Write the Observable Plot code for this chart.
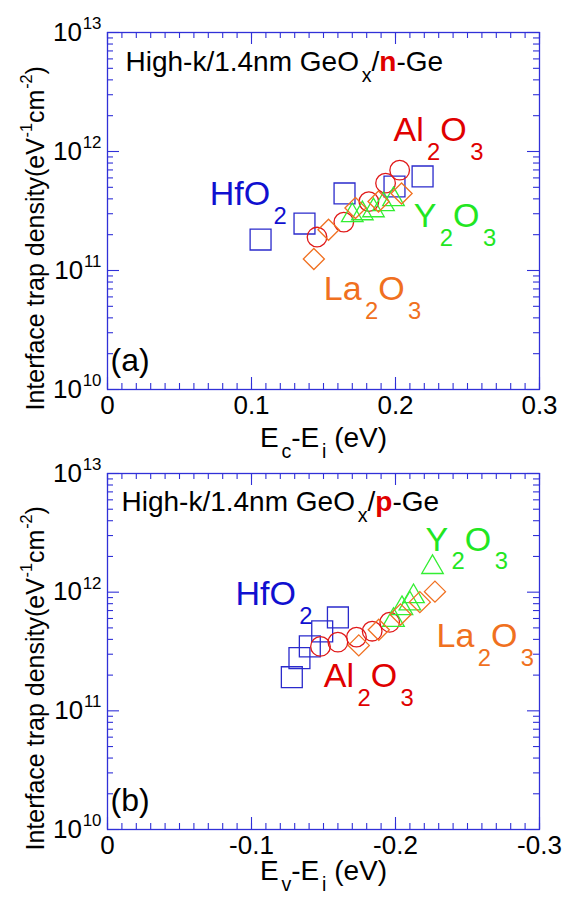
<!DOCTYPE html>
<html><head><meta charset="utf-8">
<script src="https://cdn.jsdelivr.net/npm/d3@7"></script>
<script src="https://cdn.jsdelivr.net/npm/@observablehq/plot@0.6"></script>
<style>
body{margin:0;background:#fff;}
#chart{position:relative;width:572px;height:897px;}
#chart svg{position:absolute;left:0;}
</style></head><body><div id="chart"></div>
<script>
// ---- Data: panel (a) n-Ge, E = Ec-Ei (eV), D = interface trap density ----
const hfA_E = [0.1063, 0.1368, 0.1646, 0.1993, 0.2188];
const hfA_D = [1.82e11, 2.48e11, 4.44e11, 5.08e11, 6.17e11];
const alA_E = [0.1455, 0.1641, 0.1815, 0.1931, 0.2029];
const alA_D = [1.91e11, 2.55e11, 3.79e11, 5.42e11, 6.97e11];
const yA_E = [0.170, 0.177, 0.1847, 0.1917, 0.1986];
const yA_D = [2.90e11, 3.01e11, 3.19e11, 3.59e11, 3.96e11];
const laA_E = [0.1433, 0.1535, 0.1722, 0.1882, 0.2042];
const laA_D = [1.25e11, 2.20e11, 3.35e11, 3.80e11, 4.44e11];
// ---- Data: panel (b) p-Ge, E = Ev-Ei (eV) ----
const hfB_E = [-0.128, -0.1333, -0.1405, -0.1491, -0.160];
const hfB_D = [1.92e11, 2.78e11, 3.49e11, 4.67e11, 6.12e11];
const alB_E = [-0.1479, -0.160, -0.1729, -0.1838, -0.196];
const alB_D = [3.49e11, 3.79e11, 4.18e11, 4.69e11, 5.58e11];
const yB_E = [-0.1986, -0.2045, -0.2100, -0.2125, -0.2257];
const yB_D = [5.8e11, 7.3e11, 8.0e11, 9.2e11, 1.62e12];
const laB_E = [-0.1745, -0.1884, -0.2035, -0.2169, -0.2274];
const laB_D = [3.56e11, 4.82e11, 6.49e11, 8.24e11, 1.01e12];
// ---- Labels & ticks ----
const materials = ["HfO_{2}", "Al_{2}O_{3}", "Y_{2}O_{3}", "La_{2}O_{3}"];
const labelA_E = [0.0710, 0.1986, 0.2127, 0.1502];
const labelA_D = [3.52e11, 1.22e12, 2.31e11, 5.6e10];
const labelB_E = [-0.0889, -0.1502, -0.2208, -0.2285];
const labelB_D = [7.73e11, 1.58e11, 2.24e12, 3.44e11];
const titleA = "High-k/1.4nm GeO_{x}/!{n}-Ge";
const titleB = "High-k/1.4nm GeO_{x}/!{p}-Ge";
const xLabelA = "E_{c}-E_{i} (eV)";
const xLabelB = "E_{v}-E_{i} (eV)";
const yLabel = "Interface trap density(eV^{-1}cm^{-2})";
const xTicksA = [0, 0.1, 0.2, 0.3];
const xTicksB = [0, -0.1, -0.2, -0.3];
const yTicks = [1e10, 1e11, 1e12, 1e13];

const FONT = "'Liberation Sans', Arial, Helvetica, sans-serif";
const AXIS = "#3030d8";
const COLORS = ["#1010d0", "#e00000", "#22e622", "#f07020"];
const STROKES = ["#2a2acc", "#e01818", "#33ee33", "#f07020"];
const SYMBOLS = ["square", "circle", "triangle", "diamond2"];
const RADII = [11.8, 9.8, 8.0, 9.5];

const rows = (E, D) => E.map((e, i) => ({E: e, D: D[i]}));
const yMinor = [10, 11, 12].flatMap(d => [2,3,4,5,6,7,8,9].map(k => k * 10 ** d));

function panel({sign, series, labE, labD, title, tag, xLabel, xTicks, height, marginTop, marginBottom, titleDx, titleDy, xLabelDy}) {
  const xMinor = d3.range(0, 31).map(i => sign * i / 100);
  const PW = 572 - 107 - 33, PH = height - marginTop - marginBottom;
  const tk = {stroke: AXIS, strokeWidth: 1.1};
  const marks = [
    Plot.frame({stroke: AXIS, strokeWidth: 1.3}),
    Plot.ruleX(xMinor, {...tk, insetTop: PH - 6}),
    Plot.ruleX(xMinor, {...tk, insetBottom: PH - 6}),
    Plot.ruleX(xTicks, {...tk, insetTop: PH - 12}),
    Plot.ruleX(xTicks, {...tk, insetBottom: PH - 12}),
    Plot.ruleY(yMinor, {...tk, insetRight: PW - 6}),
    Plot.ruleY(yMinor, {...tk, insetLeft: PW - 6}),
    Plot.ruleY(yTicks, {...tk, insetRight: PW - 12}),
    Plot.ruleY(yTicks, {...tk, insetLeft: PW - 12}),
    Plot.axisX({anchor: "bottom", ticks: xTicks, tickSize: 0, tickPadding: 6, fontSize: 26, fill: "#000",
      tickFormat: d => d === 0 ? "0" : d.toFixed(1), label: null}),
    Plot.axisY({anchor: "left", ticks: yTicks, tickSize: 0, tickPadding: 6, fontSize: 26, fill: "#000",
      tickFormat: d => `10^{${Math.round(Math.log10(d))}}`, label: null}),
  ];
  series.forEach(([E, D], k) => {
    marks.push(Plot.dot(rows(E, D), {x: "E", y: "D", symbol: SYMBOLS[k], r: RADII[k], stroke: STROKES[k], strokeWidth: 1.3, fill: "none"}));
  });
  marks.push(Plot.text(materials.map((m, k) => ({m, E: labE[k], D: labD[k], c: COLORS[k]})),
    {x: "E", y: "D", text: "m", fill: d => d.c, fontSize: 34, textAnchor: "start", lineAnchor: "bottom"}));
  marks.push(Plot.text([title], {text: d => d, frameAnchor: "top-left", dx: titleDx, dy: titleDy, textAnchor: "start", lineAnchor: "bottom", fontSize: 28, fill: "#000"}));
  marks.push(Plot.text([tag], {text: d => d, frameAnchor: "bottom-left", dx: 3, dy: -19, textAnchor: "start", lineAnchor: "bottom", fontSize: 32, fill: "#000"}));
  marks.push(Plot.text([xLabel], {text: d => d, frameAnchor: "bottom", dy: xLabelDy, textAnchor: "middle", lineAnchor: "bottom", fontSize: 28, fill: "#000"}));
  marks.push(Plot.text([yLabel], {text: d => d, frameAnchor: "bottom-left", dx: -64, dy: 21, rotate: -90, textAnchor: "start", lineAnchor: "bottom", fontSize: 25, fill: "#000"}));
  return Plot.plot({
    width: 572, height, marginTop, marginBottom, marginLeft: 107, marginRight: 33,
    style: {fontFamily: FONT, background: "transparent", overflow: "visible"},
    x: {domain: sign > 0 ? [0, 0.3] : [0, -0.3], label: null},
    y: {type: "log", domain: [1e10, 1e13], label: null},
    marks
  });
}

function richify(root) {
  root.querySelectorAll("text").forEach(t => {
    const s = t.textContent;
    if (!/[_^!]\{/.test(s)) return;
    const fs = parseFloat(getComputedStyle(t).fontSize);
    const subShift = fs >= 30 ? 0.55 : 0.42;
    while (t.firstChild) t.removeChild(t.firstChild);
    const re = /([_^!])\{([^}]*)\}/g;
    let last = 0, shift = 0, m;
    const add = (txt, kind) => {
      if (!txt) return;
      const sp = document.createElementNS("http://www.w3.org/2000/svg", "tspan");
      sp.textContent = txt;
      let target = 0;
      if (kind === "_") { target = subShift * fs; sp.setAttribute("font-size", 0.7 * fs); sp.setAttribute("dx", 0.1 * fs); }
      else if (kind === "^") { target = -0.45 * fs; sp.setAttribute("font-size", 0.65 * fs); sp.setAttribute("dx", 0.03 * fs); }
      else if (kind === "!") { sp.setAttribute("font-weight", "bold"); sp.setAttribute("fill", "#e00000"); }
      const d = target - shift;
      if (d) sp.setAttribute("dy", d);
      shift = target;
      t.appendChild(sp);
    };
    while ((m = re.exec(s))) { add(s.slice(last, m.index), ""); add(m[2], m[1]); last = re.lastIndex; }
    add(s.slice(last), "");
  });
}

const chartEl = document.getElementById("chart");
const svgA = panel({sign: 1, series: [[hfA_E, hfA_D], [alA_E, alA_D], [yA_E, yA_D], [laA_E, laA_D]],
  labE: labelA_E, labD: labelA_D, title: titleA, tag: "(a)", xLabel: xLabelA, xTicks: xTicksA,
  height: 450, marginTop: 32, marginBottom: 61, titleDx: 18, titleDy: 38, xLabelDy: 57});
const svgB = panel({sign: -1, series: [[hfB_E, hfB_D], [alB_E, alB_D], [yB_E, yB_D], [laB_E, laB_D]],
  labE: labelB_E, labD: labelB_D, title: titleB, tag: "(b)", xLabel: xLabelB, xTicks: xTicksB,
  height: 447, marginTop: 23, marginBottom: 68, titleDx: 14, titleDy: 37, xLabelDy: 50});
svgA.style.top = "0px";
svgB.style.top = "450px";
chartEl.appendChild(svgA);
chartEl.appendChild(svgB);
richify(chartEl);
</script></body></html>
